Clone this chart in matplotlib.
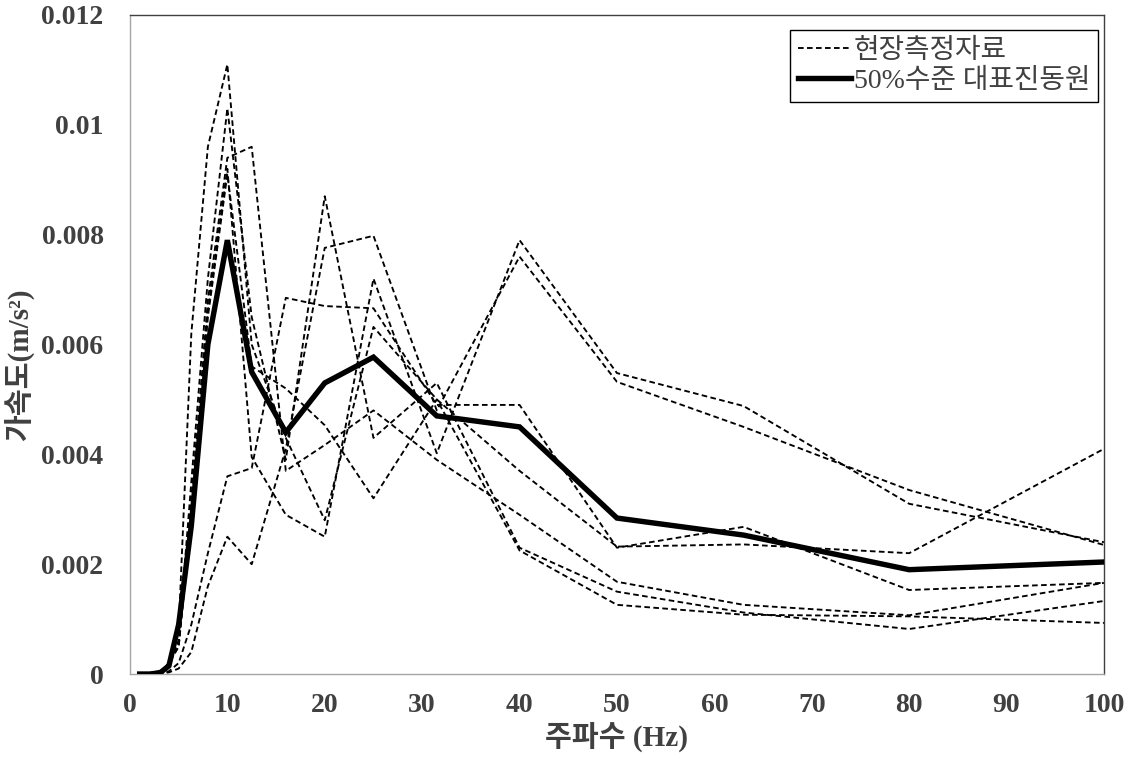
import matplotlib
matplotlib.use("Agg")
import matplotlib.pyplot as plt

# 1/3-octave band centre frequencies (Hz)
freq = [1, 1.25, 1.6, 2, 2.5, 3.15, 4, 5, 6.3, 8, 10, 12.5, 16, 20, 25, 31.5, 40, 50, 63, 80, 100]

# field measurement records (m/s^2)
site1 = [0, 0, 0, 0, 0.00001, 0.00003, 0.0002, 0.0006, 0.0032, 0.0066, 0.0092, 0.00395, 0.0029, 0.0025, 0.0072, 0.00402, 0.0079, 0.00548, 0.00488, 0.0031, 0.0024]
site2 = [0, 0, 0, 0, 0, 0.00001, 0.00003, 0.0001, 0.0004, 0.0016, 0.0025, 0.0020, 0.0041, 0.00776, 0.00798, 0.0048, 0.0076, 0.00532, 0.0045, 0.00335, 0.00235]
site3 = [0, 0, 0, 0, 0, 0.00001, 0.00005, 0.0002, 0.0009, 0.0022, 0.0036, 0.00375, 0.00685, 0.0067, 0.00666, 0.0049, 0.0049, 0.0023, 0.00268, 0.00153, 0.00166]
site4 = [0, 0, 0, 0, 0.00001, 0.00003, 0.0002, 0.0008, 0.0062, 0.0096, 0.0111, 0.0060, 0.0043, 0.0028, 0.00632, 0.0050, 0.0037, 0.00232, 0.00236, 0.0022, 0.0041]
site5 = [0, 0, 0, 0, 0.00001, 0.00003, 0.0002, 0.0005, 0.0030, 0.0068, 0.0094, 0.0096, 0.0037, 0.00417, 0.0048, 0.0039, 0.0029, 0.00168, 0.00126, 0.00107, 0.00166]
site6 = [0, 0, 0, 0, 0.00001, 0.00003, 0.0002, 0.0006, 0.0035, 0.0072, 0.0103, 0.0065, 0.0039, 0.0087, 0.0043, 0.0053, 0.0023, 0.0015, 0.00112, 0.00082, 0.00133]
site7 = [0, 0, 0, 0, 0.00001, 0.00003, 0.0002, 0.0005, 0.0028, 0.0065, 0.0091, 0.0056, 0.0052, 0.00453, 0.0032, 0.0050, 0.00225, 0.00126, 0.00108, 0.00105, 0.00093]
site_records = [site1, site2, site3, site4, site5, site6, site7]

# 50% level representative vibration source
rep50 = [0, 0, 0, 0, 0.00001, 0.00003, 0.00015, 0.0009, 0.0027, 0.0060, 0.0079, 0.0055, 0.0044, 0.0053, 0.00577, 0.0047, 0.0045, 0.00284, 0.00253, 0.0019, 0.00204]

xticks = [0, 10, 20, 30, 40, 50, 60, 70, 80, 90, 100]
yticks = [0, 0.002, 0.004, 0.006, 0.008, 0.01, 0.012]
ytick_labels = ["0", "0.002", "0.004", "0.006", "0.008", "0.01", "0.012"]

label_site = "현장측정자료"
label_rep = "50%수준 대표진동원"
xlabel = "주파수 (Hz)"
ylabel = "가속도(m/s²)"

fam = ["Liberation Serif", "Noto Sans CJK KR", "DejaVu Sans"]
plt.rcParams["font.family"] = fam

fig = plt.figure(figsize=(11.34, 7.57), dpi=100)
ax = fig.add_axes([0.1146, 0.1096, 0.8589, 0.8706])

for i, rec in enumerate(site_records):
    ax.plot(freq, rec, color="black", lw=1.35, linestyle=(0, (3.0, 1.8)),
            label=label_site if i == 0 else None, zorder=2)
ax.plot(freq, rep50, color="black", lw=3.9, solid_joinstyle="miter",
        label=label_rep, zorder=3)

ax.set_xlim(0, 100)
ax.set_ylim(0, 0.012)
ax.set_xticks(xticks)
ax.set_xticklabels([str(t) for t in xticks])
ax.set_yticks(yticks)
ax.set_yticklabels(ytick_labels)
ax.tick_params(axis="x", length=0, pad=14, labelcolor="#404040")
ax.tick_params(axis="y", length=0, pad=19, labelcolor="#404040")
for lab in ax.get_xticklabels() + ax.get_yticklabels():
    lab.set_fontsize(20)
    lab.set_fontweight("bold")
    lab.set_family(fam)

ax.spines["left"].set_color("#a6a6a6")
ax.spines["bottom"].set_color("#a6a6a6")
ax.spines["top"].set_color("#404040")
ax.spines["right"].set_color("#404040")
for s in ax.spines.values():
    s.set_linewidth(1.0)

ax.set_xlabel(xlabel, fontsize=21, fontweight="bold", color="#404040", labelpad=2, family=fam)
ax.set_ylabel(ylabel, fontsize=21, fontweight="bold", color="#404040", family=fam)
ax.yaxis.set_label_coords(-0.098, 0.47)

leg = ax.legend(loc="upper right", bbox_to_anchor=(1.0, 0.985), frameon=True, fancybox=False,
                edgecolor="black", framealpha=1, handlelength=1.9, handletextpad=0.1,
                borderpad=0.3, labelspacing=0.15, borderaxespad=0.2,
                prop={"family": fam, "size": 20})
leg.get_frame().set_linewidth(1.0)
for t in leg.get_texts():
    t.set_color("#404040")

fig.savefig("out.png", dpi=100)
